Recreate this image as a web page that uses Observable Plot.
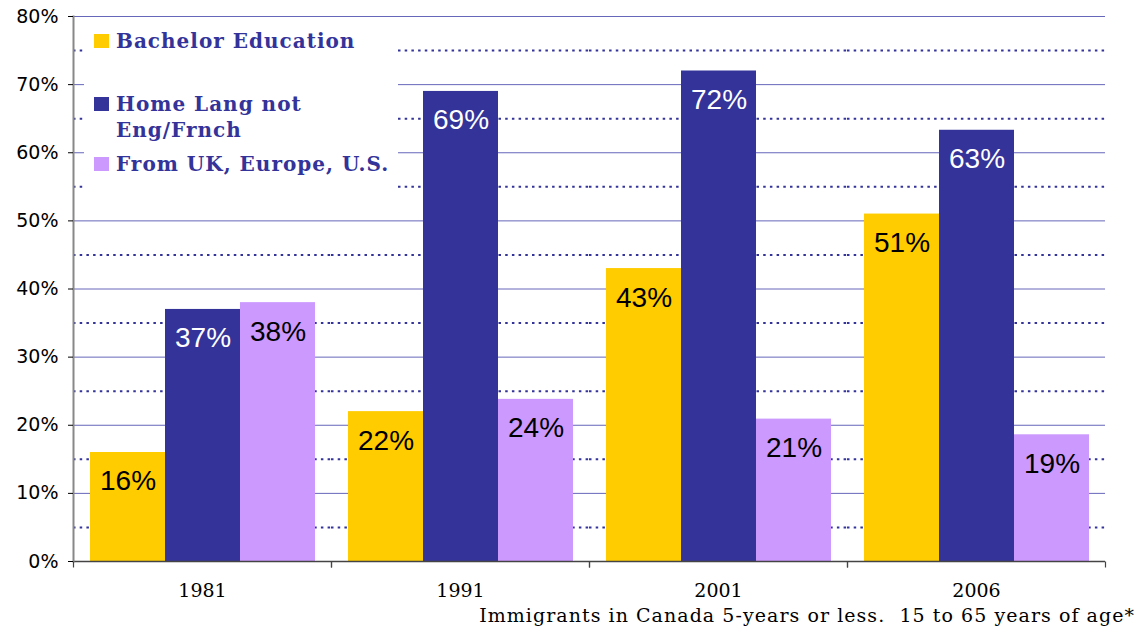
<!DOCTYPE html>
<html>
<head>
<meta charset="utf-8">
<script src="https://cdn.jsdelivr.net/npm/d3@7"></script>
<script src="https://cdn.jsdelivr.net/npm/@observablehq/plot@0.6"></script>
<style>
  html, body { margin: 0; padding: 0; background: #fff; }
  #wrap { position: relative; width: 1139px; height: 633px; overflow: hidden; }
  #legend { position: absolute; left: 84px; top: 17px; width: 314px; height: 176px; background: #fff; }
  .entry { position: absolute; left: 10px; font-family: "DejaVu Serif", serif; font-weight: bold; font-size: 20px; letter-spacing: 1px; line-height: 26px; color: #333399; padding-left: 22px; white-space: nowrap; }
  .sw { position: absolute; left: 0; top: 6px; width: 15px; height: 14px; }
  #caption { position: absolute; right: 4px; top: 603px; font-family: "DejaVu Serif", serif; font-size: 19px; letter-spacing: 1.05px; line-height: 24px; color: #000; white-space: pre; }
</style>
</head>
<body>
<div id="wrap"></div>
<script>
const years = ["1981", "1991", "2001", "2006"];
const series = ["Bachelor Education", "Home Lang not Eng/Frnch", "From UK, Europe, U.S."];
const legendLines = [["Bachelor Education"], ["Home Lang not", "Eng/Frnch"], ["From UK, Europe, U.S."]];
const colors = ["#FFCC00", "#333399", "#CC99FF"];
const labelColors = ["#000000", "#ffffff", "#000000"];
const bachelor = [16, 22, 43, 51];
const homeLang = [37, 69, 72, 63.3];
const fromUK = [38, 23.8, 20.9, 18.6];
const solidGrid = [10, 20, 30, 40, 50, 60, 70, 80];
const dottedGrid = [5, 15, 25, 35, 45, 55, 65, 75];
const yTicks = [0, 10, 20, 30, 40, 50, 60, 70, 80];
const captionText = "Immigrants in Canada 5-years or less.  15 to 65 years of age*";

const valuesBySeries = [bachelor, homeLang, fromUK];
const data = [];
years.forEach((yr, i) => series.forEach((s, j) => data.push({year: yr, series: s, value: valuesBySeries[j][i], si: j})));

const tickSymbol = {draw(ctx) { ctx.moveTo(0, 0); ctx.lineTo(0, 6); }};

const chart = Plot.plot({
  width: 1139,
  height: 603,
  marginTop: 16,
  marginLeft: 73,
  marginRight: 34,
  marginBottom: 42,
  style: {fontFamily: "'DejaVu Sans', sans-serif", background: "#fff"},
  fx: {domain: years, padding: 0},
  x: {domain: series, paddingInner: 0, paddingOuter: 0.2, axis: null},
  y: {domain: [0, 80]},
  color: {domain: series, range: colors},
  marks: [
    Plot.ruleY(dottedGrid, {stroke: "#333399", strokeWidth: 2, strokeDasharray: "2.5,4.2"}),
    Plot.ruleY(solidGrid, {stroke: "#6666bb", strokeWidth: 1}),
    Plot.barY(data, {fx: "year", x: "series", y: "value", fill: "series"}),
    Plot.ruleY([0], {stroke: "#444", strokeWidth: 1.5}),
    Plot.frame({anchor: "left", stroke: "#888", strokeWidth: 2, facetAnchor: "left"}),
    Plot.dot(years, {fx: d => d, frameAnchor: "bottom-left", symbol: tickSymbol, stroke: "#444", fill: "none", strokeWidth: 1.2}),
    Plot.dot(years, {fx: d => d, frameAnchor: "bottom-right", symbol: tickSymbol, stroke: "#444", fill: "none", strokeWidth: 1.2}),
    ...series.map((s, j) => Plot.text(data.filter(d => d.si === j), {
      fx: "year", x: "series", y: "value", text: d => Math.round(d.value) + "%",
      dy: 29, lineAnchor: "middle", fill: labelColors[j], fontSize: 28,
      fontFamily: "'Liberation Sans', Arial, sans-serif"
    })),
    Plot.axisY({ticks: yTicks, tickFormat: d => d + "%", tickSize: 5, tickPadding: 10, fontSize: 19, fill: "#000", label: null}),
    Plot.axisFx({anchor: "bottom", tickSize: 0, tickPadding: 22, fontSize: 19, fontFamily: "'DejaVu Serif', serif", label: null})
  ]
});

const wrap = document.getElementById("wrap");
wrap.appendChild(chart);

const legend = document.createElement("div");
legend.id = "legend";
const tops = [11, 74, 134];
legendLines.forEach((lines, j) => {
  const e = document.createElement("div");
  e.className = "entry";
  e.style.top = tops[j] + "px";
  const sw = document.createElement("div");
  sw.className = "sw";
  sw.style.background = colors[j];
  e.appendChild(sw);
  lines.forEach((ln, k) => {
    if (k) e.appendChild(document.createElement("br"));
    e.appendChild(document.createTextNode(ln));
  });
  legend.appendChild(e);
});
wrap.appendChild(legend);

const cap = document.createElement("div");
cap.id = "caption";
cap.textContent = captionText;
wrap.appendChild(cap);
</script>
</body>
</html>
